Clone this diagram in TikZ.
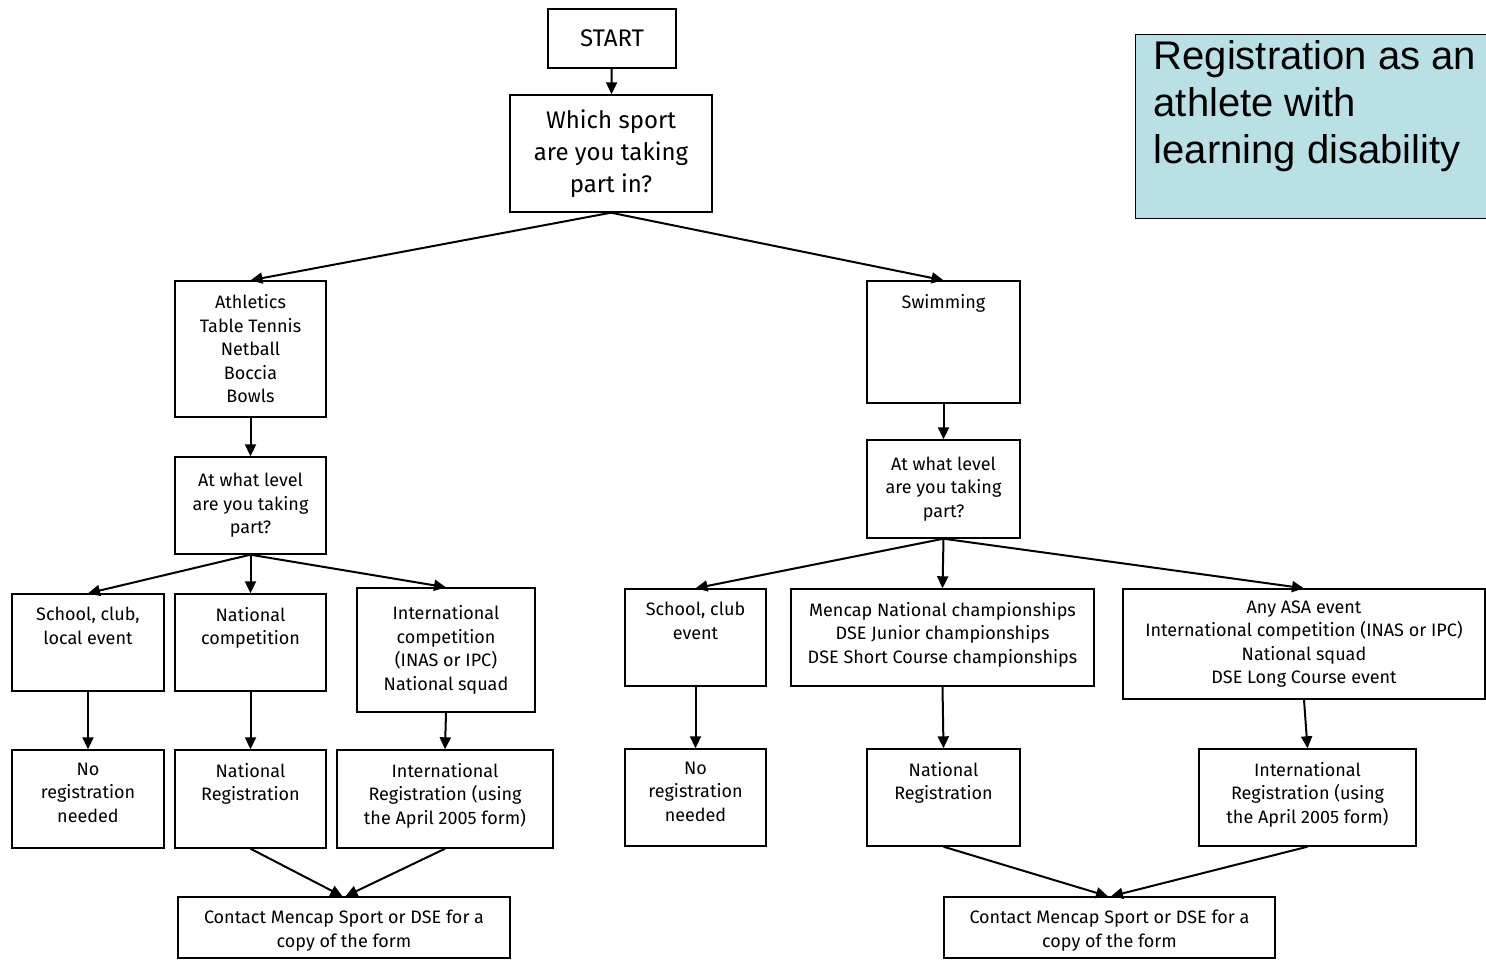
\documentclass[tikz,border=0pt]{standalone}
\usepackage{fontspec}
\setmainfont{Fira Sans}
\newfontfamily\titlefont{Liberation Sans}
\usepackage{xcolor}
\definecolor{titlebg}{RGB}{185,224,228}
\usetikzlibrary{arrows.meta,positioning}
% text hung from the top of a fixed-size box
\newcommand{\toptext}[3]{\parbox[c][#2][t]{#1}{\centering\vspace*{13pt}#3}}

\begin{document}
\begin{tikzpicture}[
  x=1pt, y=-1pt,
  box/.style={draw, line width=1.4pt, inner sep=0pt, align=center, font=\fontsize{18}{23.5}\selectfont},
  bigbox/.style={box, font=\fontsize{24}{32}\selectfont},
  arr/.style={-{Triangle[length=12pt,width=11pt]}, line width=2pt}
]
\useasboundingbox (0,0) rectangle (1486,960);

% title
\node[draw, line width=1.4pt, fill=titlebg, inner sep=0pt, anchor=north west] (title) at (1135,34)
  {\parbox[c][184pt][t]{360pt}{\raggedright\titlefont\fontsize{40}{47}\selectfont\vspace*{6pt}\hspace*{18pt}Registration as an\\\hspace*{18pt}athlete with\\\hspace*{18pt}learning disability}};

% top
\node[bigbox, minimum width=128pt, minimum height=59pt] (start) at (612,38.5) {START};
\node[bigbox, minimum width=202pt, minimum height=117pt] (sport) at (611,153.5) {Which sport\\are you taking\\part in?};

% left branch
\node[box, minimum width=151pt, minimum height=136pt] (teamsports) at (250.5,349) {Athletics\\Table Tennis\\Netball\\Boccia\\Bowls};
\node[box, minimum width=151pt, minimum height=97pt] (levelL) at (250.5,505.5) {At what level\\are you taking\\part?};
\node[box] (localL) at (88,642.5) {\toptext{152pt}{97pt}{School, club,\\local event}};
\node[box] (natcompL) at (250.5,642.5) {\toptext{151pt}{97pt}{National\\competition}};
\node[box, minimum width=178pt, minimum height=124pt] (intcompL) at (446,650) {International\\competition\\(INAS or IPC)\\National squad};
\node[box] (noregL) at (88,799) {\toptext{152pt}{98pt}{No\\registration\\needed}};
\node[box] (natregL) at (250.5,799) {\toptext{151pt}{98pt}{National\\Registration}};
\node[box] (intregL) at (445,799) {\toptext{216pt}{98pt}{International\\Registration (using\\the April 2005 form)}};
\node[box] (contactL) at (344,927.5) {\toptext{332pt}{61pt}{Contact Mencap Sport or DSE for a\\copy of the form}};

% right branch
\node[box] (swim) at (943.5,342) {\toptext{153pt}{122pt}{Swimming}};
\node[box, minimum width=153pt, minimum height=98pt] (levelR) at (943.5,489) {At what level\\are you taking\\part?};
\node[box] (localR) at (695.5,637.5) {\toptext{141pt}{97pt}{School, club\\event}};
\node[box] (natcompR) at (942.5,637.5) {\toptext{303pt}{97pt}{Mencap National championships\\DSE Junior championships\\DSE Short Course championships}};
\node[box, minimum width=362pt, minimum height=110pt] (intcompR) at (1304,644) {Any ASA event\\International competition (INAS or IPC)\\National squad\\DSE Long Course event};
\node[box] (noregR) at (695.5,797.5) {\toptext{141pt}{97pt}{No\\registration\\needed}};
\node[box] (natregR) at (943.5,797.5) {\toptext{153pt}{97pt}{National\\Registration}};
\node[box] (intregR) at (1307.5,797.5) {\toptext{217pt}{97pt}{International\\Registration (using\\the April 2005 form)}};
\node[box] (contactR) at (1109.5,927.5) {\toptext{331pt}{61pt}{Contact Mencap Sport or DSE for a\\copy of the form}};

\draw[arr] (start) -- (sport);
\draw[arr] (sport.south) -- (teamsports.north);
\draw[arr] (sport.south) -- (swim.north);
\draw[arr] (teamsports) -- (levelL);
\draw[arr] (swim) -- (levelR);
\draw[arr] (levelL.south) -- (localL.north);
\draw[arr] (levelL.south) -- (natcompL.north);
\draw[arr] (levelL.south) -- (intcompL.north);
\draw[arr] (levelR.south) -- (localR.north);
\draw[arr] (levelR.south) -- (natcompR.north);
\draw[arr] (levelR.south) -- (intcompR.north);
\draw[arr] (localL) -- (noregL);
\draw[arr] (natcompL) -- (natregL);
\draw[arr] (intcompL.south) -- (intregL.north);
\draw[arr] (localR) -- (noregR);
\draw[arr] (natcompR.south) -- (natregR.north);
\draw[arr] (intcompR.south) -- (intregR.north);
\draw[arr] (natregL.south) -- ([xshift=-1.5pt]contactL.north);
\draw[arr] (intregL.south) -- ([xshift=1.5pt]contactL.north);
\draw[arr] (natregR.south) -- ([xshift=-1.5pt]contactR.north);
\draw[arr] (intregR.south) -- ([xshift=1.5pt]contactR.north);
\end{tikzpicture}
\end{document}
